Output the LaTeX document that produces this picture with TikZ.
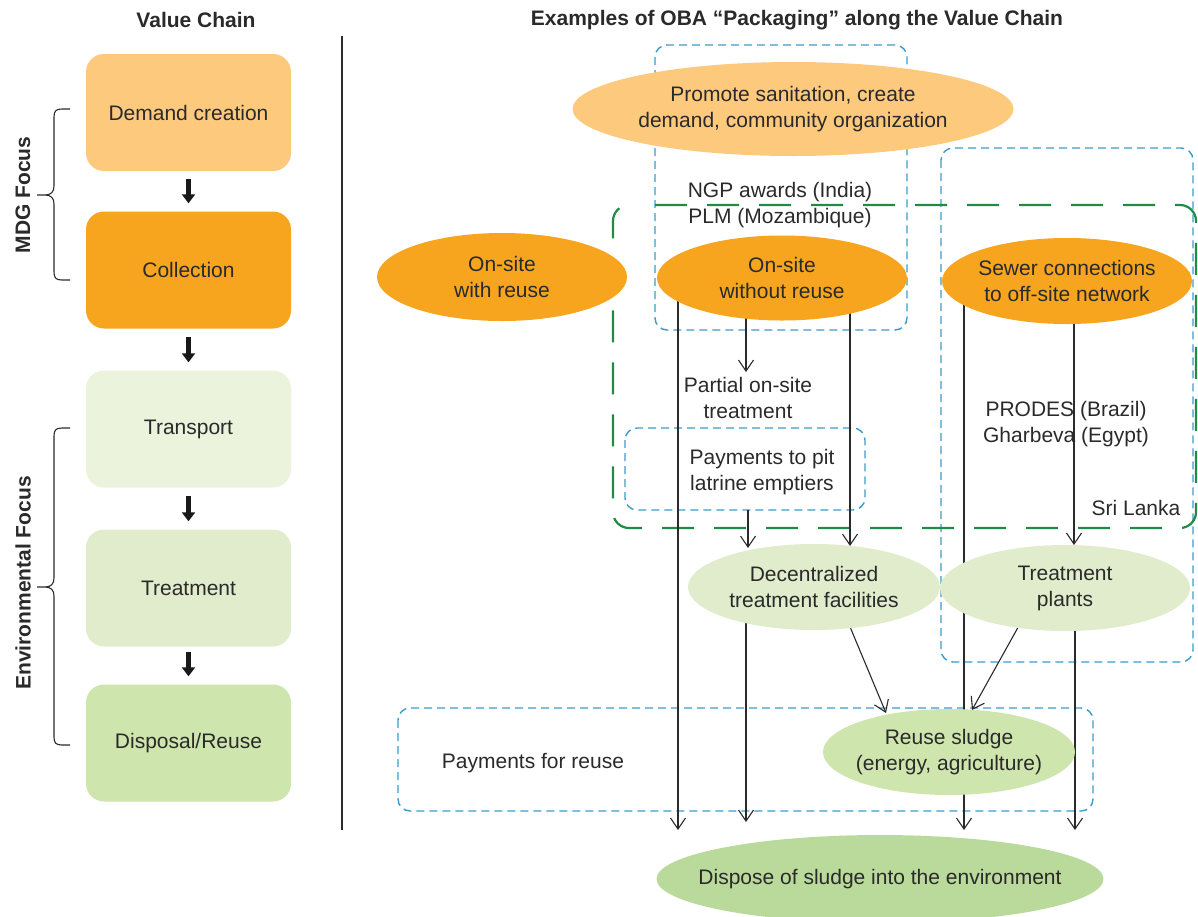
\documentclass[tikz,border=0pt]{standalone}
\usepackage{fontspec}
\setmainfont{Liberation Sans}
\usetikzlibrary{shapes.geometric,arrows.meta,backgrounds}
\definecolor{orL}{HTML}{FDC97D}
\definecolor{orD}{HTML}{F7A51E}
\definecolor{grA}{HTML}{EBF3DC}
\definecolor{grB}{HTML}{E0ECCC}
\definecolor{grC}{HTML}{CFE5AE}
\definecolor{grD}{HTML}{B9DA9A}
\definecolor{bluedash}{HTML}{3A9CCB}
\definecolor{greendash}{HTML}{1D8C45}
\definecolor{txt}{HTML}{2A2A2A}
\begin{document}
\begin{tikzpicture}[x=1pt,y=-1pt,
 every node/.style={text=txt, font=\fontsize{21}{26}\selectfont},
 chainbox/.style={rounded corners=18pt, minimum width=205pt, minimum height=117pt, inner sep=0pt},
 oval/.style={ellipse, inner ysep=0pt, inner xsep=-40pt, align=center},
 thickarrow/.style={line width=4.5pt, -{Triangle[length=9pt,width=13pt]}, draw=black!90, shorten <=8pt, shorten >=8pt},
 conn/.style={line width=1.1pt, draw=txt, -{Straight Barb[length=11pt,width=15pt]}},
 bracepath/.style={line width=1.1pt, draw=txt},
 bluebox/.style={draw=bluedash, line width=1.4pt, dash pattern=on 8pt off 5pt, rounded corners=12pt},
 greenbox/.style={draw=greendash, line width=2.2pt, dash pattern=on 32pt off 20pt, rounded corners=16pt},
 hdr/.style={font=\bfseries\fontsize{21}{26}\selectfont},
 ]
\useasboundingbox (0,0) rectangle (1198,916);

% headers
\node[hdr] (h1) at (196,20) {Value Chain};
\node[hdr] (h2) at (797,20) {Examples of OBA “Packaging” along the Value Chain};

% value chain
\node[chainbox, fill=orL] (b1) at (188.5,112.5) {Demand creation};
\node[chainbox, fill=orD] (b2) at (188.5,270) {Collection};
\node[chainbox, fill=grA] (b3) at (188.5,429) {Transport};
\node[chainbox, fill=grB] (b4) at (188.5,588) {Treatment};
\node[chainbox, fill=grC] (b5) at (188.5,743) {Disposal/Reuse};
\draw[thickarrow] (b1) -- (b2);
\draw[thickarrow] (b2) -- (b3);
\draw[thickarrow] (b3) -- (b4);
\draw[thickarrow, shorten <=5pt] (b4) -- (b5);

% braces
\draw[bracepath] (70,109) -- (62,109) .. controls (56,109) and (54,111) .. (54,117) -- (54,186)
  .. controls (54,192) and (51,195) .. (45,195) -- (37,195) -- (45,195)
  .. controls (51,195) and (54,198) .. (54,204) -- (54,272)
  .. controls (54,278) and (56,280) .. (62,280) -- (70,280);
\draw[bracepath] (70,428) -- (62,428) .. controls (56,428) and (54,430) .. (54,436) -- (54,578)
  .. controls (54,584) and (51,587) .. (45,587) -- (37,587) -- (45,587)
  .. controls (51,587) and (54,590) .. (54,596) -- (54,737)
  .. controls (54,743) and (56,745) .. (62,745) -- (70,745);
\node[hdr, rotate=90] (mdg) at (23,195) {MDG Focus};
\node[hdr, rotate=90] (env) at (23,583) {Environmental Focus};

% divider
\coordinate (dtop) at (342,36);
\coordinate (dbot) at (342,830);
\draw[line width=1.2pt, draw=txt] (dtop) -- (dbot);

% ellipses
\node[oval, fill=orL, minimum width=441pt, minimum height=94pt] (promote) at (793,109) {Promote sanitation, create\\demand, community organization};
\node[oval, fill=orD, minimum width=250pt, minimum height=88pt] (withr) at (502,277) {On-site\\with reuse};
\node[oval, fill=orD, minimum width=250pt, minimum height=85pt] (without) at (782,278) {On-site\\without reuse};
\node[oval, fill=orD, minimum width=250pt, minimum height=86pt] (sewer) at (1067,281) {Sewer connections\\to off-site network};
\node[oval, fill=grB, minimum width=252pt, minimum height=86pt] (decen) at (814,587) {Decentralized\\treatment facilities};
\node[oval, fill=grB, minimum width=250pt, minimum height=86pt] (plants) at (1065,588) {Treatment\\plants};
\node[oval, fill=grC, minimum width=252pt, minimum height=86pt] (reuse) at (949,752) {Reuse sludge\\(energy, agriculture)};
\node[oval, fill=grD, minimum width=447pt, minimum height=88pt, inner xsep=-60pt] (dispose) at (880,879) {Dispose of sludge into the environment};

% text labels
\node[align=center] (ngp) at (780,205) {NGP awards (India)\\PLM (Mozambique)};
\node[align=center] (partial) at (748,398) {Partial on-site\\treatment};
\node[align=center] (pit) at (762,472) {Payments to pit\\latrine emptiers};
\node[align=center] (prodes) at (1066,424) {PRODES (Brazil)\\Gharbeva (Egypt)};
\node (sri) at (1136,508) {Sri Lanka};
\node (payr) at (533,763) {Payments for reuse};

% end points
\coordinate (t1) at (746,372);
\coordinate (t2) at (678,830);
\coordinate (t3) at (850,546);
\coordinate (pitbot) at (748,510);
\coordinate (t4) at (748,548);
\coordinate (t5) at (746,822);
\coordinate (t6) at (886,713);
\coordinate (t7) at (964,830);
\coordinate (t8) at (1074,545);
\coordinate (t9) at (972,710);
\coordinate (t10) at (1075,830);

\begin{scope}[on background layer]
\draw[bluebox] (655,45) rectangle (907,330);
\draw[bluebox] (941,148) rectangle (1193,662);
\draw[bluebox] (625,428) rectangle (865,510);
\draw[bluebox] (398,708) rectangle (1093,811);
\draw[greenbox] (655,205) -- (1196,205) -- (1196,528) -- (613,528) -- (613,205) -- (627,205);

\draw[conn] ([xshift=-36pt]without.center) -- (t1);
\draw[conn] ([xshift=-104pt]without.center) -- (t2);
\draw[conn] ([xshift=68pt]without.center) -- (t3);
\draw[conn] (pitbot) -- (t4);
\draw[conn] ([xshift=-68pt]decen.center) -- (t5);
\draw[conn] ([xshift=34pt,yshift=-35pt]decen.center) -- (t6);
\draw[conn] ([xshift=-103pt]sewer.center) -- (t7);
\draw[conn] ([xshift=7pt]sewer.center) -- (t8);
\draw[conn] ([xshift=-44pt,yshift=-34pt]plants.center) -- (t9);
\draw[conn] ([xshift=10pt]plants.center) -- (t10);
\end{scope}
\end{tikzpicture}
\end{document}
